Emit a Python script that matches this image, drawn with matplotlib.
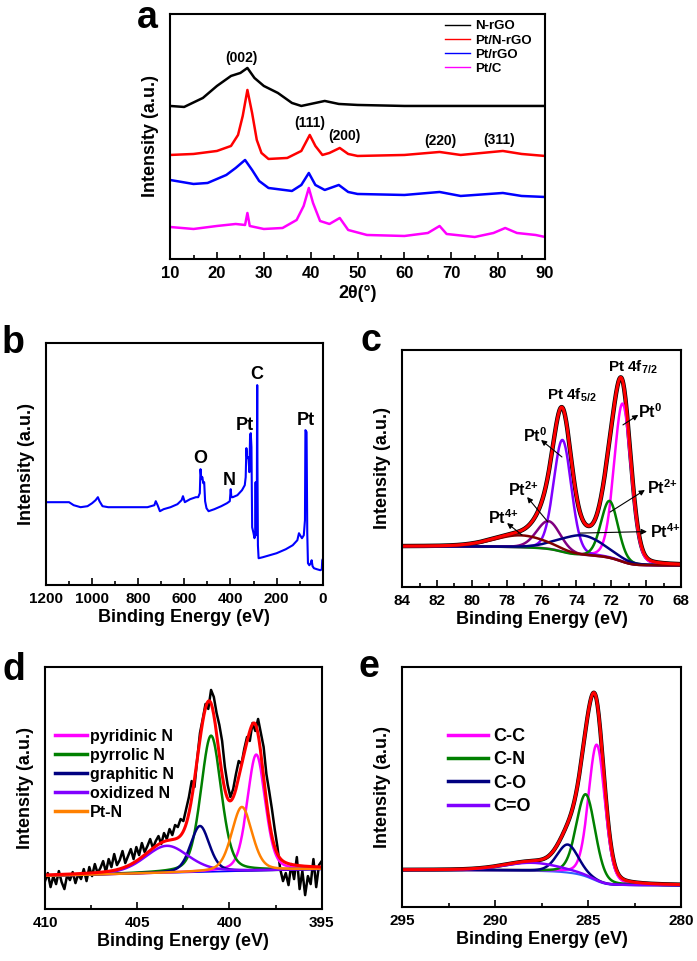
import matplotlib
matplotlib.use('Agg')
import matplotlib.pyplot as plt
import numpy as np
from matplotlib.ticker import MultipleLocator

plt.rcParams['font.family'] = ['Liberation Sans', 'DejaVu Sans']
plt.rcParams['font.weight'] = 'bold'
plt.rcParams['axes.labelweight'] = 'bold'
plt.rcParams['mathtext.default'] = 'regular'

# ---- a: XRD (intensity in arbitrary units) ----
xrd_x_nrgo = [10, 13, 17, 20, 23, 25, 26.5, 28, 30, 33, 36, 38, 43, 46, 50, 60, 70, 80, 90]
xrd_nrgo = [153, 152, 161, 173, 183, 186, 191, 181, 173, 166, 156, 153, 158, 155, 154, 153, 153, 153, 153]
xrd_x_ptnrgo = [10, 15, 20, 23, 24.5, 25.5, 26.5, 27.5, 28.5, 29.5, 31, 35, 38, 39.8, 41, 42.5, 44, 46.2,
                48, 50, 60, 67.5, 72, 81, 85, 90]
xrd_ptnrgo = [104, 105, 108, 113, 124, 143, 169, 146, 119, 106, 100, 101, 108, 124, 113, 104, 106, 111,
              105, 103, 104, 107, 104, 108, 105, 103]
xrd_x_ptrgo = [10, 15, 18, 22, 24, 26, 27.5, 29, 31, 36, 38, 39.6, 41, 43, 46, 48, 50, 60, 67.5, 72, 81, 85, 90]
xrd_ptrgo = [79, 75, 76, 84, 91, 99, 89, 78, 71, 68, 74, 86, 74, 69, 74, 67, 65, 64, 67, 63, 66, 63, 62]
xrd_x_ptc = [10, 15, 20, 24, 26, 26.5, 27, 30, 34, 37, 38.5, 39.6, 40.5, 42, 44, 46.2, 48, 52, 60, 65,
             67.5, 69, 75, 79, 81.5, 84, 88, 90]
xrd_ptc = [32, 30, 33, 35, 34, 46, 33, 30, 31, 39, 53, 71, 56, 38, 35, 41, 29, 24, 23, 26,
           33, 25, 22, 26, 31, 26, 24, 22]
xrd_hkl = ['(002)', '(111)', '(200)', '(220)', '(311)']
xrd_hkl_x = [25.3, 39.9, 47.1, 67.6, 80.2]
xrd_hkl_y = [201, 136, 123, 118, 119]

# ---- b: survey ----
sv_be = [1200, 1150, 1100, 1080, 1050, 1020, 1000, 985, 975, 968, 955, 930, 900, 850, 800, 760, 730, 724,
         716, 706, 690, 660, 630, 612, 606, 598, 575, 550, 540, 533, 530, 526, 522, 518, 514, 510, 504,
         495, 470, 440, 415, 403, 399, 396, 390, 370, 350, 338, 334, 331, 328, 322, 318, 315, 312, 309,
         306, 300, 296, 293, 291, 289, 286, 285, 284, 283, 281, 278, 260, 230, 200, 160, 130, 110, 103,
         98, 90, 82, 77, 75, 72, 70, 67, 64, 58, 52, 48, 44, 38, 25, 10, 4, 2, 0]
sv_int = [83, 83, 83, 80, 78, 79, 82, 85, 88, 84, 79, 78, 78, 78, 78, 78, 80, 84,
          80, 74, 76, 78, 81, 85, 89, 83, 86, 88, 88, 92, 116, 106, 108, 102, 103, 84, 77,
          74, 76, 79, 82, 84, 96, 88, 88, 90, 95, 100, 108, 137, 127, 128, 113, 150, 152, 138,
          58, 52, 47, 50, 103, 52, 50, 150, 200, 120, 40, 27, 28, 30, 32, 36, 40, 45, 52,
          50, 47, 50, 65, 155, 154, 153, 52, 22, 20, 22, 25, 19, 17, 16, 15, 16, 25, 26]
sv_lbl = ['O', 'N', 'Pt', 'C', 'Pt']
sv_lbl_be = [530, 406, 339, 288, 72]
sv_lbl_y = [127, 105, 160, 211, 165]

# ---- c: Pt 4f fit (centre eV, height, FWHM eV) ----
pt_names = ['Pt0 7/2', 'Pt0 5/2', 'Pt2+ 7/2', 'Pt2+ 5/2', 'Pt4+ 7/2', 'Pt4+ 5/2']
pt_center = [71.35, 74.8, 72.1, 75.6, 73.7, 77.2]
pt_height = [158, 112, 57, 28, 20, 12]
pt_fwhm = [1.15, 1.2, 1.15, 1.6, 3.0, 3.6]
pt_colors = ['#FF00FF', '#8000FF', '#008000', '#800080', '#000080', '#800000']
pt_bg_hi, pt_bg_lo = 40.7, 21.7

# ---- d: N 1s ----
n_raw = [28, 36, 22, 33, 25, 38, 27, 20, 34, 29, 37,
         26, 35, 30, 40, 28, 42, 33, 45, 36, 41,
         48, 37, 50, 42, 55, 44, 49, 58, 46, 53,
         60, 50, 62, 54, 66, 57, 63, 70, 61, 68,
         73, 65, 76, 70, 80, 74, 84, 82, 90, 88,
         100, 112, 128, 122, 150, 176, 190, 205, 200, 219,
         212, 196, 184, 168, 142, 124, 112, 120, 135, 148,
         145, 160, 172, 168, 186, 178, 190, 176, 162, 135,
         118, 100, 80, 62, 40, 28, 36, 24, 45, 30,
         52, 20, 38, 14, 33, 25, 50, 22, 44, 48]
n_names = ['pyridinic N', 'pyrrolic N', 'graphitic N', 'oxidized N', 'Pt-N']
n_center = [398.55, 401.0, 401.6, 403.4, 399.33]
n_height = [116, 136, 46, 27, 64]
n_fwhm = [1.15, 1.3, 1.2, 2.8, 1.3]
n_colors = ['#FF00FF', '#008000', '#000080', '#8000FF', '#FF8000']
n_bg_left, n_bg_right = 33.3, 40.0

# ---- e: C 1s ----
c_names = ['C-C', 'C-N', 'C-O', 'C=O']
c_center = [284.53, 285.12, 286.09, 288.0]
c_height = [136, 82, 28, 8]
c_fwhm = [1.05, 1.2, 1.35, 3.5]
c_colors = ['#FF00FF', '#008000', '#000080', '#8000FF']
c_bg_hi, c_bg_lo = 37.0, 21.7


def pv(x, c, h, w, eta):
    g = np.exp(-4 * np.log(2) * (x - c) ** 2 / w ** 2)
    l = 1 / (1 + 4 * (x - c) ** 2 / w ** 2)
    return h * ((1 - eta) * g + eta * l)


def shirley(x, total, lo, hi):
    # x ascending, lo at low BE side
    cum = np.concatenate([[0], np.cumsum((total[1:] + total[:-1]) / 2 * np.diff(x))])
    return lo + (hi - lo) * cum / cum[-1]


def style(ax, major, minor):
    for s in ax.spines.values():
        s.set_linewidth(1.5)
    ax.set_yticks([])
    ax.xaxis.set_major_locator(MultipleLocator(major))
    ax.xaxis.set_minor_locator(MultipleLocator(minor))
    ax.tick_params(axis='x', which='both', direction='in', top=False, labelsize=11, pad=5, width=1.2)
    ax.tick_params(axis='x', which='major', length=5)
    ax.tick_params(axis='x', which='minor', length=3)
    ax.set_ylabel('Intensity (a.u.)', fontsize=13, labelpad=8)


fig = plt.figure(figsize=(6.97, 9.61), dpi=100)
axa = fig.add_axes([0.244, 0.7305, 0.538, 0.255])
axb = fig.add_axes([0.066, 0.391, 0.397, 0.252])
axc = fig.add_axes([0.577, 0.389, 0.400, 0.247])
axd = fig.add_axes([0.0646, 0.054, 0.397, 0.252])
axe = fig.add_axes([0.577, 0.0562, 0.400, 0.250])

# a
axa.plot(xrd_x_nrgo, xrd_nrgo, color='black', lw=1.8, label='N-rGO')
axa.plot(xrd_x_ptnrgo, xrd_ptnrgo, color='#FF0000', lw=1.8, label='Pt/N-rGO')
axa.plot(xrd_x_ptrgo, xrd_ptrgo, color='#0000FF', lw=1.8, label='Pt/rGO')
axa.plot(xrd_x_ptc, xrd_ptc, color='#FF00FF', lw=1.8, label='Pt/C')
for t, x, y in zip(xrd_hkl, xrd_hkl_x, xrd_hkl_y):
    axa.text(x, y, t, ha='center', va='center', fontsize=10)
axa.set_xlim(10, 90)
axa.set_ylim(0, 245)
style(axa, 10, 5)
axa.tick_params(axis='x', labelsize=12)
axa.set_xlabel('2θ(°)', fontsize=13, labelpad=3)
leg = axa.legend(loc='upper left', bbox_to_anchor=(0.733, 0.975), frameon=False, fontsize=9.5,
                 handlelength=1.9, handletextpad=0.4, labelspacing=0.15, borderpad=0, borderaxespad=0)
for ln in leg.get_lines():
    ln.set_linewidth(1.0)

# b
axb.plot(sv_be, sv_int, color='#0000FF', lw=1.5)
for t, x, y in zip(sv_lbl, sv_lbl_be, sv_lbl_y):
    axb.text(x, y, t, ha='center', va='center', fontsize=13)
axb.set_xlim(1200, 0)
axb.set_ylim(0, 242)
style(axb, 200, 100)
axb.set_xlabel('Binding Energy (eV)', fontsize=13, labelpad=2)

# c
xc = np.linspace(68, 84, 900)
pk_c = [pv(xc, c, h, w, 0.15) for c, h, w in zip(pt_center, pt_height, pt_fwhm)]
bg_c = shirley(xc, sum(pk_c), pt_bg_lo, pt_bg_hi)
env_c = bg_c + sum(pk_c)
axc.plot(xc, env_c, color='black', lw=3.2)
for p, col in zip(pk_c, pt_colors):
    axc.plot(xc, bg_c + p, color=col, lw=1.8)
axc.plot(xc, env_c, color='#FF0000', lw=2.2)
axc.set_xlim(84, 68)
axc.set_ylim(0, 237)
style(axc, 2, 1)
axc.set_xlabel('Binding Energy (eV)', fontsize=13, labelpad=2)
axc.text(72.19, 220, 'Pt 4f$_{7/2}$', ha='left', va='center', fontsize=11)
axc.text(75.69, 192, 'Pt 4f$_{5/2}$', ha='left', va='center', fontsize=11)
arrows_c = [('Pt$^{0}$', 70.47, 175, 70.45, 172, 71.33, 162),
            ('Pt$^{0}$', 77.06, 151, 76.03, 147, 74.83, 130),
            ('Pt$^{2{+}}$', 77.92, 97, 76.83, 90, 75.63, 65),
            ('Pt$^{4{+}}$', 79.07, 69, 77.98, 64, 77.12, 52),
            ('Pt$^{2{+}}$', 69.95, 99, 70.07, 97, 72.07, 75),
            ('Pt$^{4{+}}$', 69.78, 55, 69.95, 55.5, 73.79, 54)]
for t, tx, ty, hx, hy, sx, sy in arrows_c:
    axc.text(tx, ty, t, ha='left', va='center', fontsize=11.5)
    axc.annotate('', xy=(hx, hy), xytext=(sx, sy),
                 arrowprops=dict(arrowstyle='-|>', color='black', lw=0.8, mutation_scale=8,
                                 shrinkA=0, shrinkB=0))

# d
xd_raw = np.linspace(410, 395, len(n_raw))
xd = np.linspace(395, 410, 900)
pk_d = [pv(xd, c, h, w, 0.3) for c, h, w in zip(n_center, n_height, n_fwhm)]
bg_d = n_bg_right + (n_bg_left - n_bg_right) * (xd - 395) / 15
env_d = bg_d + sum(pk_d)
axd.plot(xd_raw, n_raw, color='black', lw=1.8)
axd.plot(xd, bg_d, color='#0000FF', lw=1.2)
lines_d = {}
for name, p, col in zip(n_names, pk_d, n_colors):
    lines_d[name] = axd.plot(xd, bg_d + p, color=col, lw=1.8, label=name)[0]
axd.plot(xd, env_d, color='#FF0000', lw=2.2)
axd.set_xlim(410, 395)
axd.set_ylim(0, 242)
style(axd, 5, 2.5)
axd.set_xlabel('Binding Energy (eV)', fontsize=13, labelpad=2)
leg = axd.legend(handles=[lines_d[n] for n in n_names], loc='upper left', bbox_to_anchor=(0.035, 0.745),
                 frameon=False, fontsize=11.5, handlelength=2.0, handletextpad=0.2, labelspacing=0.25,
                 borderpad=0, borderaxespad=0)
for ln in leg.get_lines():
    ln.set_linewidth(2.5)

# e
xe = np.linspace(280, 295, 900)
pk_e = [pv(xe, c, h, w, 0.2) for c, h, w in zip(c_center, c_height, c_fwhm)]
bg_e = shirley(xe, sum(pk_e), c_bg_lo, c_bg_hi)
env_e = bg_e + sum(pk_e)
axe.plot(xe, env_e, color='black', lw=3.0)
axe.plot(xe, bg_e, color='#3060FF', lw=1.5)
lines_e = []
for name, p, col in zip(c_names, pk_e, c_colors):
    lines_e.append(axe.plot(xe, bg_e + p, color=col, lw=1.8, label=name)[0])
axe.plot(xe, env_e, color='#FF0000', lw=2.2)
axe.set_xlim(295, 280)
axe.set_ylim(0, 240)
style(axe, 5, 2.5)
axe.set_xlabel('Binding Energy (eV)', fontsize=13, labelpad=2)
leg = axe.legend(handles=lines_e, loc='upper left', bbox_to_anchor=(0.165, 0.745), frameon=False,
                 fontsize=13, handlelength=2.2, handletextpad=0.28, labelspacing=0.35,
                 borderpad=0, borderaxespad=0)
for ln in leg.get_lines():
    ln.set_linewidth(2.5)

# panel letters
for t, x, y in [('a', 137, 28), ('b', 2, 353), ('c', 361, 351), ('d', 2, 680), ('e', 358, 677)]:
    fig.text(x / 697, 1 - y / 961, t, fontsize=27, ha='left', va='baseline')

fig.savefig('out.png', dpi=100)
